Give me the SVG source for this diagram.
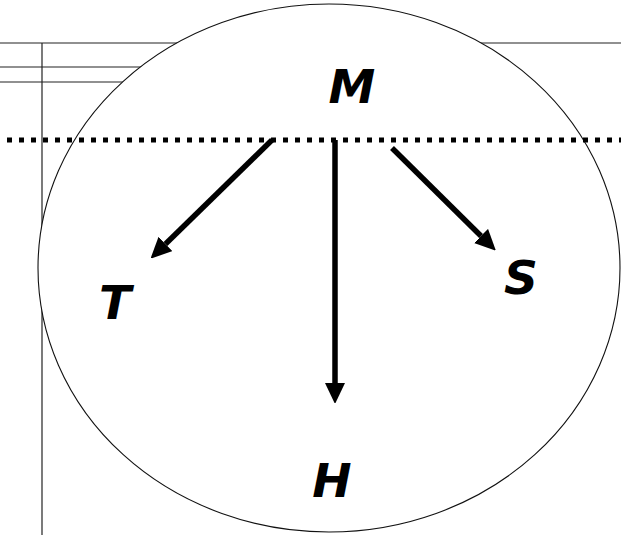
<svg xmlns="http://www.w3.org/2000/svg" width="621" height="535" viewBox="0 0 621 535">
<style>
.rule{stroke:#222;stroke-width:1.2;fill:none}
.arr{stroke:#000;stroke-width:5.5;fill:none;marker-end:url(#head)}
.lbl{font-family:"DejaVu Sans","Verdana",sans-serif;font-weight:bold;font-style:italic;font-size:47px;fill:#000;text-anchor:middle}
</style>
<defs>
<marker id="head" markerUnits="userSpaceOnUse" viewBox="0 0 20 20" markerWidth="20" markerHeight="20" refX="0" refY="10" orient="auto">
<path d="M0,0 L21,10 L0,20 z" fill="#000"/>
</marker>
</defs>
<rect width="621" height="535" fill="#fff"/>
<g id="rules">
<line class="rule" x1="0" y1="43" x2="621" y2="43"/>
<line class="rule" x1="0" y1="67" x2="200" y2="67"/>
<line class="rule" x1="0" y1="82" x2="200" y2="82"/>
<line class="rule" x1="42" y1="43" x2="42" y2="535"/>
</g>
<g id="circle">
<ellipse cx="329" cy="268" rx="291" ry="264" fill="#fff" stroke="#111" stroke-width="1.1"/>
</g>
<g id="boundary">
<line x1="7" y1="140" x2="621" y2="140" stroke="#000" stroke-width="5" stroke-dasharray="5 7"/>
</g>
<g id="connectors">
<line class="arr" x1="272" y1="140" x2="165.5" y2="244"/>
<line class="arr" x1="335" y1="140" x2="335" y2="383"/>
<line class="arr" x1="392" y1="148" x2="481" y2="236"/>
</g>
<g id="M"><text class="lbl" x="352" y="103">M</text></g>
<g id="T"><text class="lbl" x="115" y="319">T</text></g>
<g id="S"><text class="lbl" x="521" y="294">S</text></g>
<g id="H"><text class="lbl" x="332" y="497">H</text></g>
</svg>
